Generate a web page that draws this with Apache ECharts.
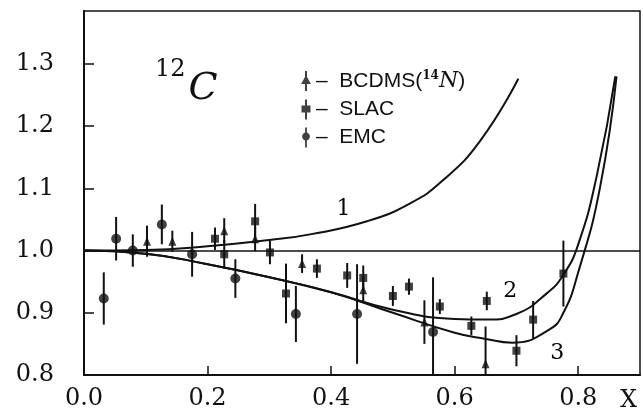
<!doctype html>
<html>
<head>
<meta charset="utf-8">
<title>12C</title>
<script src="https://cdn.jsdelivr.net/npm/echarts@6/dist/echarts.min.js"></script>
<style>
    html,body{
        margin: 0;
        width: 100%;
        height: 100%;
        background: #fff;
    }
    #chart{
        width: 643px;
        height: 417px;
    }
</style>
</head>
<body>
<div id="chart"></div>
<script>
    // data points
    var bcdmsX   = [0.102, 0.143, 0.227, 0.277, 0.353, 0.452, 0.551, 0.650];
    var bcdmsY   = [1.015, 1.015, 1.032, 1.019, 0.979, 0.937, 0.885, 0.818];
    var bcdmsErr = [0.025, 0.017, 0.020, 0.020, 0.015, 0.020, 0.035, 0.060];

    var slacX   = [0.212, 0.227, 0.277, 0.301, 0.327, 0.377, 0.426, 0.452, 0.500, 0.526, 0.576, 0.627, 0.652, 0.700, 0.727, 0.776];
    var slacY   = [1.019, 0.994, 1.047, 0.997, 0.931, 0.971, 0.960, 0.956, 0.927, 0.942, 0.910, 0.879, 0.919, 0.839, 0.889, 0.963];
    var slacErr = [0.018, 0.023, 0.028, 0.019, 0.048, 0.015, 0.020, 0.020, 0.016, 0.013, 0.012, 0.015, 0.015, 0.025, 0.030, 0.053];

    var emcX   = [0.032, 0.052, 0.079, 0.126, 0.175, 0.245, 0.343, 0.442, 0.565];
    var emcY   = [0.923, 1.019, 1.000, 1.042, 0.994, 0.955, 0.898, 0.898, 0.869];
    var emcErr = [0.042, 0.035, 0.026, 0.032, 0.036, 0.031, 0.045, 0.080, 0.088];

    // theory curves
    var curve1X = [0, 0.10, 0.20, 0.30, 0.366, 0.458, 0.528, 0.58, 0.641, 0.703];
    var curve1Y = [1.0, 1.001, 1.007, 1.017, 1.026, 1.047, 1.076, 1.112, 1.176, 1.276];
    var curve2X = [0, 0.10, 0.20, 0.30, 0.40, 0.50, 0.60, 0.652, 0.70, 0.75, 0.776, 0.80, 0.83, 0.86];
    var curve2Y = [1.0, 0.995, 0.978, 0.957, 0.933, 0.905, 0.890, 0.889, 0.898, 0.932, 0.961, 1.01, 1.12, 1.28];
    var curve3X = [0, 0.10, 0.20, 0.30, 0.40, 0.50, 0.60, 0.65, 0.693, 0.753, 0.776, 0.80, 0.835, 0.862];
    var curve3Y = [1.0, 0.995, 0.978, 0.957, 0.933, 0.900, 0.868, 0.858, 0.852, 0.873, 0.900, 0.965, 1.10, 1.28];

    var curveLabels = ['1', '2', '3'];
    var curveLabelX = [0.42, 0.69, 0.766];
    var curveLabelY = [1.067, 0.934, 0.835];

    var serif = 'DejaVu Serif';

    function zip(xs, ys){
        return xs.map(function(x, i){ return [x, ys[i]]; });
    }
    function errData(xs, ys, es){
        return xs.map(function(x, i){ return [x, ys[i] - es[i], ys[i] + es[i]]; });
    }
    function errRender(params, api){
        var lo = api.coord([api.value(0), api.value(1)]);
        var hi = api.coord([api.value(0), api.value(2)]);
        return {
            type: 'line',
            shape: {x1: lo[0], y1: lo[1], x2: hi[0], y2: hi[1]},
            style: {stroke: '#111', lineWidth: 2}
        };
    }
    function curve(name, xs, ys){
        return {
            name: name, type: 'line', data: zip(xs, ys), smooth: 0.5,
            showSymbol: false, silent: true,
            lineStyle: {color: '#111', width: 2}
        };
    }

    var iconTri = 'path://M4,0 L6,0 L6,6 L10,13 L6,13 L6,20 L4,20 L4,13 L0,13 L4,6 Z';
    var iconSq  = 'path://M4,0 L6,0 L6,6 L9.5,6 L9.5,13 L6,13 L6,20 L4,20 L4,13 L0.5,13 L0.5,6 L4,6 Z';
    var iconCir = 'path://M4,0 L6,0 L6,5.6 A4.6,4.6 0 0 1 6,14.4 L6,22 L4,22 L4,14.4 A4.6,4.6 0 0 1 4,5.6 Z';

    var chart = echarts.init(document.getElementById('chart'));
    var option = {
        animation: false,
        backgroundColor: '#fff',
        grid: {
            left: 84, right: 3, top: 11, bottom: 42,
            show: true, borderColor: '#111', borderWidth: 1.5
        },
        legend: {
            orient: 'vertical',
            left: 296, top: 65,
            itemWidth: 10, itemHeight: 20, itemGap: 7,
            data: [
                {name: 'BCDMS', icon: iconTri},
                {name: 'SLAC', icon: iconSq},
                {name: 'EMC', icon: iconCir}
            ],
            formatter: function(name){
                if(name === 'BCDMS') return '–  BCDMS({s|14}{i|N})';
                return '–  ' + name;
            },
            textStyle: {
                color: '#111', fontFamily: 'Liberation Sans', fontSize: 21,
                rich: {
                    s: {fontSize: 12, fontFamily: serif, fontWeight: 'bold', verticalAlign: 'top', lineHeight: 12},
                    i: {fontSize: 22, fontFamily: serif, fontStyle: 'italic'}
                }
            }
        },
        xAxis: {
            type: 'value', min: 0, max: 0.9, interval: 0.2,
            axisLine: {lineStyle: {color: '#111', width: 2}},
            axisTick: {inside: true, length: 9, lineStyle: {color: '#111', width: 1.5}},
            splitLine: {show: false},
            axisLabel: {
                color: '#111', fontFamily: serif, fontSize: 24, margin: 12,
                showMaxLabel: false,
                formatter: function(v){ return v.toFixed(1); }
            }
        },
        yAxis: {
            type: 'value', min: 0.8, max: 1.385, interval: 0.1,
            axisLine: {lineStyle: {color: '#111', width: 2}},
            axisTick: {inside: true, length: 10, lineStyle: {color: '#111', width: 1.5}},
            splitLine: {show: false},
            axisLabel: {
                color: '#111', fontFamily: serif, fontSize: 24, margin: 30,
                showMaxLabel: false,
                formatter: function(v){ return v.toFixed(1); }
            }
        },
        graphic: [
            {
                type: 'text', left: 155, top: 58,
                style: {
                    text: '{s|12}{c|C}',
                    rich: {
                        s: {fontFamily: serif, fontSize: 24, fill: '#111', verticalAlign: 'top', lineHeight: 26},
                        c: {fontFamily: serif, fontStyle: 'italic', fontSize: 38, fill: '#111', padding: [12, 0, 0, 3]}
                    }
                }
            },
            {
                type: 'text', left: 620, top: 389,
                style: {text: 'X', fontFamily: serif, fontSize: 24, fill: '#111'}
            }
        ],
        series: [
            Object.assign(curve('curve1', curve1X, curve1Y), {
                markLine: {
                    silent: true, symbol: 'none', label: {show: false},
                    lineStyle: {color: '#111', width: 1.5, type: 'solid'},
                    data: [{yAxis: 1.0}]
                }
            }),
            curve('curve2', curve2X, curve2Y),
            curve('curve3', curve3X, curve3Y),
            {
                name: 'bcdmsErr', type: 'custom', renderItem: errRender, clip: true,
                data: errData(bcdmsX, bcdmsY, bcdmsErr)
            },
            {
                name: 'slacErr', type: 'custom', renderItem: errRender, clip: true,
                data: errData(slacX, slacY, slacErr)
            },
            {
                name: 'emcErr', type: 'custom', renderItem: errRender, clip: true,
                data: errData(emcX, emcY, emcErr)
            },
            {
                name: 'BCDMS', type: 'scatter', symbol: 'triangle', symbolSize: [8, 9],
                itemStyle: {color: '#111'}, data: zip(bcdmsX, bcdmsY)
            },
            {
                name: 'SLAC', type: 'scatter', symbol: 'rect', symbolSize: 8,
                itemStyle: {color: '#111'}, data: zip(slacX, slacY)
            },
            {
                name: 'EMC', type: 'scatter', symbol: 'circle', symbolSize: 10,
                itemStyle: {color: '#111'}, data: zip(emcX, emcY)
            },
            {
                name: 'labels', type: 'scatter', symbolSize: 1, silent: true,
                itemStyle: {color: 'rgba(0,0,0,0)'},
                data: curveLabelX.map(function(x, i){ return [x, curveLabelY[i], curveLabels[i]]; }),
                label: {
                    show: true, position: 'inside', color: '#000', opacity: 1,
                    textBorderWidth: 0, fontFamily: serif, fontSize: 22,
                    formatter: function(p){ return p.value[2]; }
                }
            }
        ]
    };
    chart.setOption(option);
</script>
</body>
</html>
